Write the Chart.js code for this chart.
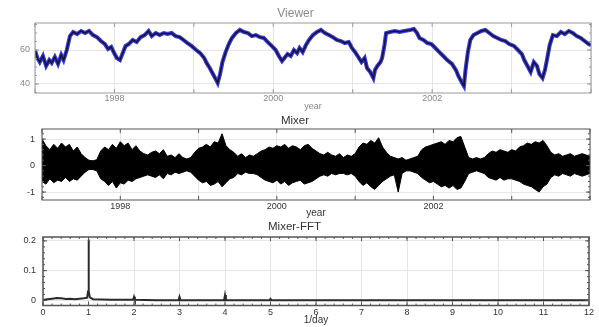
<!DOCTYPE html>
<html>
<head>
<meta charset="utf-8">
<script src="https://cdn.jsdelivr.net/npm/chart.js@4"></script>
<style>
html, body { margin: 0; padding: 0; background: #fff; }
canvas { position: absolute; left: 0; }
</style>
</head>
<body>
<canvas id="viewer" width="599" height="112" style="top:0px"></canvas>
<canvas id="mixer" width="599" height="108" style="top:112px"></canvas>
<canvas id="fft" width="599" height="107" style="top:220px"></canvas>
<script>
// Viewer
const viewerYears = [
  1997.00, 1997.03, 1997.06, 1997.10, 1997.14, 1997.18, 1997.21, 1997.25, 1997.29, 1997.33, 1997.36, 1997.40,
  1997.44, 1997.48, 1997.53, 1997.58, 1997.63, 1997.68, 1997.73, 1997.78, 1997.83, 1997.88, 1997.92, 1997.96, 1997.99, 1998.03, 1998.07, 1998.11, 1998.14, 1998.18,
  1998.23, 1998.28, 1998.33, 1998.38, 1998.43, 1998.47, 1998.52, 1998.57, 1998.62, 1998.67, 1998.72, 1998.77, 1998.82, 1998.87, 1998.92, 1998.97,
  1999.03, 1999.08, 1999.13, 1999.16, 1999.20, 1999.24, 1999.28, 1999.30, 1999.33, 1999.36, 1999.40, 1999.44, 1999.48, 1999.53, 1999.58, 1999.63, 1999.68, 1999.73, 1999.78, 1999.83, 1999.88, 1999.93, 1999.98,
  2000.03, 2000.07, 2000.11, 2000.14, 2000.18, 2000.22, 2000.26, 2000.30, 2000.33, 2000.37, 2000.41, 2000.45, 2000.50, 2000.55, 2000.60, 2000.65, 2000.70, 2000.75, 2000.80, 2000.85, 2000.90, 2000.95,
  2000.99, 2001.03, 2001.07, 2001.11, 2001.15, 2001.18, 2001.22, 2001.26, 2001.28, 2001.31, 2001.35, 2001.37, 2001.40, 2001.42, 2001.47, 2001.53, 2001.59, 2001.65, 2001.72, 2001.77, 2001.81, 2001.84, 2001.89, 2001.94, 2001.99,
  2002.04, 2002.09, 2002.14, 2002.19, 2002.25, 2002.30, 2002.33, 2002.37, 2002.40, 2002.42, 2002.45, 2002.48, 2002.52, 2002.57, 2002.62, 2002.67, 2002.72, 2002.77, 2002.82, 2002.87, 2002.92, 2002.97,
  2003.03, 2003.08, 2003.13, 2003.16, 2003.20, 2003.24, 2003.28, 2003.32, 2003.35, 2003.39, 2003.42, 2003.44, 2003.48, 2003.52, 2003.57, 2003.62, 2003.67, 2003.72, 2003.77, 2003.82, 2003.87, 2003.92, 2003.97, 2004.00
];
const viewerValues = [
  60.0, 55.3, 52.9, 56.5, 50.6, 54.1, 52.4, 55.9, 51.8, 57.1, 54.1, 60.0,
  68.2, 70.6, 69.4, 71.2, 70.0, 71.2, 68.8, 67.6, 65.3, 63.5, 60.6, 61.8, 58.8, 55.3, 54.1, 58.8, 62.4, 63.5,
  65.9, 64.7, 67.6, 68.8, 71.2, 68.2, 70.0, 68.8, 70.0, 69.4, 70.0, 68.2, 67.6, 65.9, 64.1, 62.4,
  60.0, 58.2, 55.3, 52.4, 49.4, 45.9, 42.4, 40.6, 45.9, 52.9, 58.8, 63.5, 67.1, 70.0, 71.8, 70.6, 70.0, 68.2, 68.8, 67.6, 67.1, 64.7, 62.4,
  60.0, 56.5, 53.5, 55.3, 57.6, 56.5, 60.0, 58.2, 61.2, 58.8, 62.9, 65.9, 68.8, 70.6, 71.8, 70.0, 68.8, 67.6, 65.9, 65.3, 64.1, 64.7,
  61.2, 58.8, 55.9, 52.9, 55.3, 49.4, 47.1, 43.5, 48.2, 50.6, 52.9, 55.3, 62.9, 70.0, 70.6, 71.2, 70.6, 71.2, 71.8, 72.4, 70.0, 67.1, 65.9, 64.1, 63.5,
  61.2, 58.8, 56.5, 54.1, 51.8, 48.2, 44.7, 41.2, 38.8, 48.2, 58.8, 65.9, 68.8, 70.0, 71.2, 71.8, 70.0, 68.2, 67.1, 65.9, 65.3, 63.5,
  62.4, 60.0, 57.6, 54.1, 50.6, 47.1, 52.9, 50.6, 45.9, 43.5, 48.2, 52.9, 62.9, 68.8, 68.2, 70.6, 69.4, 71.2, 70.0, 68.2, 67.1, 65.3, 63.5, 62.9
];

// Mixer: upper and lower edge of the black band
const mixerYears = [
  1997.00, 1997.05, 1997.10, 1997.15, 1997.20, 1997.25, 1997.30, 1997.35, 1997.40, 1997.45,
  1997.50, 1997.55, 1997.60, 1997.65, 1997.70, 1997.75, 1997.80, 1997.85, 1997.90, 1997.95,
  1998.00, 1998.05, 1998.10, 1998.15, 1998.20, 1998.25, 1998.30, 1998.35, 1998.40, 1998.45,
  1998.50, 1998.55, 1998.60, 1998.65, 1998.70, 1998.75, 1998.80, 1998.85, 1998.90, 1998.95,
  1999.00, 1999.05, 1999.10, 1999.15, 1999.20, 1999.25, 1999.30, 1999.35, 1999.40, 1999.45,
  1999.50, 1999.55, 1999.60, 1999.65, 1999.70, 1999.75, 1999.80, 1999.85, 1999.90, 1999.95,
  2000.00, 2000.05, 2000.10, 2000.15, 2000.20, 2000.25, 2000.30, 2000.35, 2000.40, 2000.45,
  2000.50, 2000.55, 2000.60, 2000.65, 2000.70, 2000.75, 2000.80, 2000.85, 2000.90, 2000.95,
  2001.00, 2001.05, 2001.10, 2001.15, 2001.20, 2001.25, 2001.30, 2001.35, 2001.40, 2001.45,
  2001.50, 2001.55, 2001.60, 2001.65, 2001.70, 2001.75, 2001.80, 2001.85, 2001.90, 2001.95,
  2002.00, 2002.05, 2002.10, 2002.15, 2002.20, 2002.25, 2002.30, 2002.35, 2002.40, 2002.45,
  2002.50, 2002.55, 2002.60, 2002.65, 2002.70, 2002.75, 2002.80, 2002.85, 2002.90, 2002.95,
  2003.00, 2003.05, 2003.10, 2003.15, 2003.20, 2003.25, 2003.30, 2003.35, 2003.40, 2003.45,
  2003.50, 2003.55, 2003.60, 2003.65, 2003.70, 2003.75, 2003.80, 2003.85, 2003.90, 2003.95,
  2004.00
];
const mixerUpper = [
  1.0, 0.75, 0.6, 0.8, 0.65, 0.85, 0.7, 0.8, 0.55, 0.7,
  0.45, 0.3, 0.2, 0.18, 0.22, 0.55, 0.7, 0.6, 0.8, 0.65,
  0.9, 0.75, 0.85, 0.6, 0.75, 0.55, 0.45, 0.4, 0.5, 0.55,
  0.45, 0.6, 0.35, 0.4, 0.3, 0.45, 0.3, 0.25, 0.3, 0.5,
  0.65, 0.7, 0.8, 0.7, 0.9, 0.85, 1.2, 0.75, 0.6, 0.5,
  0.35, 0.45, 0.3, 0.4, 0.35, 0.45, 0.55, 0.6, 0.7, 0.65,
  0.75, 0.7, 0.8, 0.65, 0.75, 0.7, 0.6, 0.75, 0.8, 0.65,
  0.55, 0.45, 0.4, 0.5, 0.4, 0.35, 0.45, 0.3, 0.4, 0.35,
  0.45, 0.7, 0.85, 0.8, 0.95, 0.85, 1.05, 0.7, 0.5, 0.35,
  0.3, 0.25, 0.3, 0.2, 0.25, 0.3, 0.35, 0.6, 0.7, 0.75,
  0.8, 0.85, 0.9, 0.8, 0.95, 0.9, 1.05, 1.1, 0.7, 0.3,
  0.25, 0.3, 0.25, 0.3, 0.45, 0.55, 0.5, 0.6, 0.55, 0.5,
  0.6, 0.55, 0.7, 0.75, 0.85, 0.8, 0.9, 0.85, 0.95, 0.75,
  0.5, 0.4, 0.45, 0.35, 0.4, 0.45, 0.35, 0.4, 0.45, 0.4,
  0.35
];
const mixerLower = [
  -0.6, -0.7, -0.5, -0.65, -0.55, -0.6, -0.45, -0.6, -0.5, -0.55,
  -0.4, -0.25, -0.15, -0.15, -0.2, -0.5, -0.6, -0.75, -0.6, -0.85,
  -0.65, -0.7, -0.55, -0.6, -0.5, -0.45, -0.4, -0.35, -0.4, -0.45,
  -0.35, -0.5, -0.3, -0.35, -0.25, -0.3, -0.25, -0.2, -0.25, -0.4,
  -0.55, -0.65, -0.6, -0.75, -0.7, -0.6, -0.8, -0.65, -0.5, -0.45,
  -0.3, -0.35, -0.25, -0.3, -0.3, -0.35, -0.45, -0.55, -0.6, -0.65,
  -0.55, -0.7, -0.6, -0.75, -0.65, -0.6, -0.55, -0.7, -0.65, -0.6,
  -0.5, -0.4, -0.35, -0.4, -0.3, -0.35, -0.3, -0.3, -0.35, -0.3,
  -0.4, -0.6, -0.75, -0.65, -0.8, -0.9, -0.75, -0.6, -0.5, -0.4,
  -0.35, -1.0, -0.3, -0.2, -0.2, -0.25, -0.3, -0.45, -0.55, -0.65,
  -0.6, -0.7, -0.8, -0.75, -0.85, -0.75, -0.9, -0.85, -0.6, -0.3,
  -0.25, -0.2, -0.25, -0.3, -0.45, -0.5, -0.55, -0.45, -0.55, -0.5,
  -0.5, -0.55, -0.6, -0.7, -0.75, -0.8, -0.9, -1.0, -0.8, -0.7,
  -0.45, -0.35, -0.4, -0.3, -0.35, -0.4, -0.3, -0.35, -0.4, -0.35,
  -0.3
];

// Mixer-FFT
const fftFreq = [0, 0.1, 0.2, 0.3, 0.4, 0.5, 0.6, 0.7, 0.8, 0.9,
  0.97, 0.99, 1.0, 1.01, 1.03, 1.1, 1.3, 1.5, 1.8, 1.98,
  2.0, 2.02, 2.5, 2.98, 3.0, 3.02, 3.98, 4.0, 4.02, 4.98,
  5.0, 5.02, 6, 8, 10, 12];
const fftAmp = [0.001, 0.004, 0.006, 0.008, 0.007, 0.005, 0.006, 0.004, 0.006, 0.007,
  0.009, 0.03, 0.205, 0.03, 0.01, 0.004, 0.003, 0.002, 0.002, 0.002,
  0.012, 0.002, 0.001, 0.001, 0.012, 0.001, 0.001, 0.018, 0.001, 0.001,
  0.005, 0.001, 0.001, 0.001, 0.001, 0.001];

const yearLabels = [1998, 2000, 2002];

const FONT = 'Liberation Sans, Arial, sans-serif';
const pts = (xs, ys) => xs.map((x, i) => ({x: x, y: ys[i]}));

// box round the plot with inward tick marks, matlab style
const frame = {
  id: 'frame',
  afterDatasetsDraw(chart, args, o) {
    const {ctx, chartArea: a} = chart;
    const sx = chart.scales.x, sy = chart.scales.y;
    const vmark = (px, len) => {
      ctx.moveTo(px, a.bottom); ctx.lineTo(px, a.bottom - len);
      ctx.moveTo(px, a.top); ctx.lineTo(px, a.top + len);
    };
    const hmark = (py, len) => {
      ctx.moveTo(a.left, py); ctx.lineTo(a.left + len, py);
      ctx.moveTo(a.right, py); ctx.lineTo(a.right - len, py);
    };
    ctx.save();
    ctx.strokeStyle = o.color;
    ctx.lineWidth = 1;
    ctx.beginPath();
    sx.ticks.forEach(t => vmark(sx.getPixelForValue(t.value), 4));
    sy.ticks.forEach(t => hmark(sy.getPixelForValue(t.value), 4));
    if (o.xMinor) {
      for (let v = Math.ceil(sx.min / o.xMinor) * o.xMinor; v <= sx.max; v += o.xMinor) vmark(sx.getPixelForValue(v), 2);
    }
    if (o.yMinor) {
      for (let v = Math.ceil(sy.min / o.yMinor) * o.yMinor; v <= sy.max; v += o.yMinor) hmark(sy.getPixelForValue(v), 2);
    }
    ctx.stroke();
    ctx.lineWidth = o.width;
    ctx.strokeRect(a.left, a.top, a.right - a.left, a.bottom - a.top);
    ctx.restore();
  }
};
Chart.register(frame);

function panel(id, p) {
  return new Chart(document.getElementById(id), {
    type: 'line',
    data: {datasets: p.datasets},
    options: {
      responsive: false,
      animation: false,
      layout: {padding: {left: 0, right: p.right, top: 0, bottom: 0}},
      elements: {point: {radius: 0}, line: {tension: 0}},
      plugins: {
        legend: {display: false},
        tooltip: {enabled: false},
        title: {
          display: true, text: p.title, color: p.titleColor,
          font: {family: FONT, size: p.titleSize, weight: 'normal'},
          padding: p.titlePad
        },
        frame: {color: p.frameColor, width: p.frameWidth, xMinor: p.xMinor, yMinor: p.yMinor}
      },
      scales: {
        x: {
          type: 'linear', min: p.xMin, max: p.xMax,
          afterFit: s => { s.height = p.xHeight; },
          grid: {color: '#e6e6e6', drawTicks: false},
          border: {display: false},
          ticks: {
            stepSize: 1, includeBounds: false, autoSkip: false, maxRotation: 0,
            padding: p.xPad, color: p.tickColor, font: {family: FONT, size: 9},
            callback: p.xLabel
          },
          title: {
            display: true, text: p.xTitle, color: p.tickColor,
            font: {family: FONT, size: p.xTitleSize},
            padding: {top: 0, bottom: p.xTitlePad}
          }
        },
        y: {
          min: p.yMin, max: p.yMax,
          afterFit: s => { s.width = p.yWidth; },
          grid: {color: '#e6e6e6', drawTicks: false},
          border: {display: false},
          ticks: {
            stepSize: p.yStep, includeBounds: false,
            padding: p.yPad, color: p.tickColor, font: {family: FONT, size: 9}
          }
        }
      }
    }
  });
}

const yearTick = v => yearLabels.includes(v) ? String(v) : '';

panel('viewer', {
  title: 'Viewer', titleColor: '#8a8a8a', titleSize: 12, titlePad: {top: 6, bottom: 2.6},
  right: 8, xMin: 1997, xMax: 2004, xHeight: 19, xPad: 0, xLabel: yearTick,
  xTitle: 'year', xTitleSize: 9, xTitlePad: 0,
  yMin: 34.7, yMax: 75.9, yStep: 20, yWidth: 35, yPad: 5, yMinor: 5,
  tickColor: '#888', frameColor: '#9a9a9a', frameWidth: 1,
  datasets: [
    {data: pts(viewerYears, viewerValues), borderColor: '#14143c', borderWidth: 1.6},
    {data: pts(viewerYears, viewerValues), borderColor: '#3a3ad8', borderWidth: 4}
  ]
});

panel('mixer', {
  title: 'Mixer', titleColor: '#333', titleSize: 11.5, titlePad: {top: 2.1, bottom: 1.1},
  right: 9, xMin: 1997, xMax: 2004, xHeight: 20, xPad: 1, xLabel: yearTick,
  xTitle: 'year', xTitleSize: 10, xTitlePad: 0.5,
  yMin: -1.3, yMax: 1.38, yStep: 1, yWidth: 42, yPad: 7, yMinor: 0.2,
  tickColor: '#333', frameColor: '#555', frameWidth: 1,
  datasets: [
    {data: pts(mixerYears, mixerUpper), borderColor: '#000', borderWidth: 1, fill: '+1', backgroundColor: '#000'},
    {data: pts(mixerYears, mixerLower), borderColor: '#000', borderWidth: 1, fill: false}
  ]
});

panel('fft', {
  title: 'Mixer-FFT', titleColor: '#333', titleSize: 11.5, titlePad: {top: 0.1, bottom: 3.1},
  right: 10, xMin: 0, xMax: 12, xHeight: 21.5, xPad: 2, xLabel: v => String(v),
  xTitle: '1/day', xTitleSize: 10, xTitlePad: 1,
  yMin: -0.017, yMax: 0.213, yStep: 0.1, yWidth: 43, yPad: 7, xMinor: 0.2, yMinor: 0.02,
  tickColor: '#333', frameColor: '#555', frameWidth: 1.5,
  datasets: [
    {data: pts(fftFreq, fftAmp), borderColor: '#2a2a2a', borderWidth: 2}
  ]
});
</script>
</body>
</html>
